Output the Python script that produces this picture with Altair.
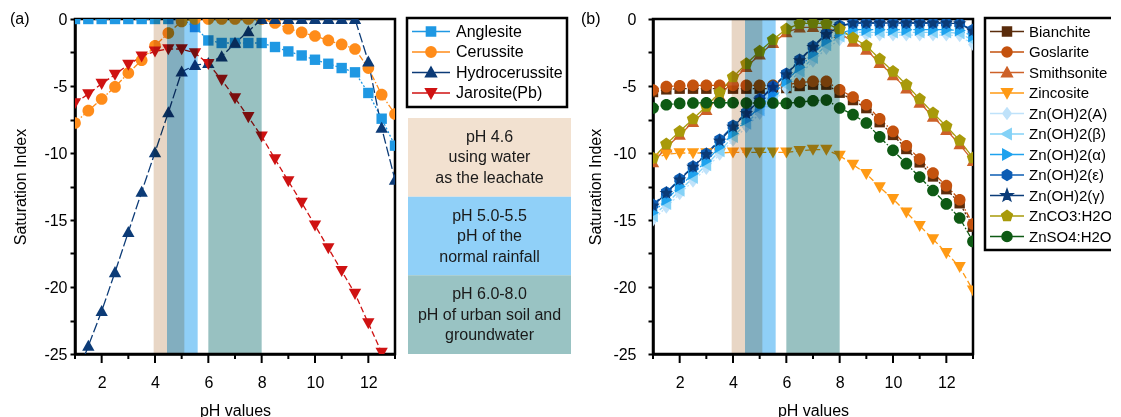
import math
import altair as alt
import pandas as pd

FONT = "Liberation Sans"

# ---------------- data ----------------
PH = [1.0, 1.5, 2.0, 2.5, 3.0, 3.5, 4.0, 4.5, 5.0, 5.5, 6.0, 6.5, 7.0,
      7.5, 8.0, 8.5, 9.0, 9.5, 10.0, 10.5, 11.0, 11.5, 12.0, 12.5, 13.0]

LEFT_SERIES = ["Anglesite", "Cerussite", "Hydrocerussite", "Jarosite(Pb)"]
ANGLESITE = [0, 0, 0, 0, 0, 0, 0, 0, 0, -0.6, -1.6, -1.79, -1.79, -1.79, -1.79,
             -2.09, -2.42, -2.72, -3.04, -3.34, -3.66, -3.98, -5.52, -7.44, -9.45]
CERUSSITE = [-7.76, -6.84, -5.97, -5.07, -4.03, -3.08, -2.0, -1.05, -0.18, 0, 0, 0, 0,
             0, 0, -0.3, -0.72, -1.0, -1.27, -1.6, -1.9, -2.24, -3.66, -5.65, -7.09]
HYDROCERUSSITE = [-27.0, -24.4, -21.8, -18.9, -15.9, -12.9, -9.95, -6.97, -3.93, -3.45,
                  -3.3, -2.8, -1.79, -0.93, 0, 0, 0, 0, 0, 0, 0, 0, -3.18, -8.13, -12.0]
JAROSITE = [-6.27, -5.6, -4.83, -4.15, -3.41, -2.79, -2.41, -2.24, -2.24, -2.54, -3.34,
            -4.53, -5.9, -7.31, -8.76, -10.45, -12.1, -13.7, -15.4, -17.1, -18.8, -20.5,
            -22.7, -24.9, -27.5]
LEFT_VALUES = [ANGLESITE, CERUSSITE, HYDROCERUSSITE, JAROSITE]

RIGHT_SERIES = ["Bianchite", "Goslarite", "Smithsonite", "Zincosite", "Zn(OH)2(A)",
                "Zn(OH)2(β)", "Zn(OH)2(α)", "Zn(OH)2(ε)", "Zn(OH)2(γ)", "ZnCO3:H2O",
                "ZnSO4:H2O"]
BIANCHITE = [-5.45, -5.25, -5.2, -5.2, -5.2, -5.2, -5.2, -5.2, -5.2, -5.2, -5.15, -5.0,
             -4.9, -4.9, -5.5, -6.05, -6.65, -7.7, -8.65, -9.7, -10.7, -11.75, -12.7,
             -13.75, -15.5]
GOSLARITE = [-5.3, -5.05, -4.98, -4.95, -4.95, -4.95, -4.95, -4.95, -4.95, -4.95, -4.9,
             -4.75, -4.65, -4.65, -5.28, -5.82, -6.4, -7.46, -8.39, -9.46, -10.45, -11.5,
             -12.44, -13.49, -15.3]
SMITHSONITE = [-10.7, -9.6, -8.65, -7.7, -6.8, -5.75, -4.6, -3.6, -2.65, -1.8, -1.0,
               -0.65, -0.6, -0.65, -1.05, -1.7, -2.3, -3.3, -4.2, -5.2, -6.25, -7.3,
               -8.3, -9.35, -10.6]
ZINCOSITE = [-10.4, -10.1, -10.0, -10.0, -10.0, -10.0, -9.95, -9.95, -9.95, -9.95, -9.95,
             -9.85, -9.75, -9.75, -10.2, -10.87, -11.55, -12.54, -13.43, -14.43, -15.43,
             -16.42, -17.46, -18.5, -20.25]
ZNOH_A = [-15.0, -14.05, -13.05, -12.1, -11.15, -10.1, -9.05, -8.05, -7.05, -6.15, -5.2,
          -4.15, -3.15, -2.2, -1.55, -1.2, -1.2, -1.2, -1.2, -1.2, -1.2, -1.2, -1.2,
          -1.25, -1.9]
ZNOH_BETA = [-14.7, -13.8, -12.8, -11.85, -10.9, -9.85, -8.8, -7.8, -6.8, -5.9, -4.95,
             -3.9, -2.9, -1.95, -1.3, -1.0, -1.0, -1.0, -1.0, -1.0, -1.0, -1.0, -1.0,
             -1.05, -1.6]
ZNOH_ALPHA = [-14.45, -13.5, -12.5, -11.55, -10.6, -9.55, -8.55, -7.55, -6.55, -5.6,
              -4.65, -3.6, -2.6, -1.65, -1.05, -0.8, -0.8, -0.8, -0.8, -0.8, -0.8, -0.8,
              -0.8, -0.85, -1.3]
ZNOH_EPS = [-13.86, -12.94, -11.94, -11.0, -10.05, -9.0, -7.96, -6.97, -5.97, -5.03,
            -4.08, -3.03, -2.04, -1.09, -0.5, -0.3, -0.3, -0.3, -0.3, -0.3, -0.3, -0.3,
            -0.3, -0.35, -0.8]
ZNOH_GAMMA = [-13.95, -13.0, -12.0, -11.05, -10.1, -9.1, -8.05, -7.05, -6.05, -5.1,
              -4.15, -3.1, -2.1, -1.15, -0.55, -0.3, -0.3, -0.3, -0.3, -0.3, -0.3, -0.3,
              -0.3, -0.35, -0.9]
ZNCO3 = [-10.4, -9.33, -8.39, -7.46, -6.52, -5.48, -4.33, -3.34, -2.41, -1.54, -0.75,
         -0.35, -0.3, -0.35, -0.75, -1.42, -1.99, -2.99, -3.91, -4.9, -5.97, -7.01,
         -8.01, -9.06, -10.37]
ZNSO4 = [-6.64, -6.4, -6.3, -6.27, -6.25, -6.25, -6.25, -6.27, -6.27, -6.27, -6.3, -6.2,
         -6.1, -6.05, -6.64, -7.14, -7.76, -8.8, -9.8, -10.8, -11.8, -12.8, -13.8,
         -14.85, -16.6]
RIGHT_VALUES = [BIANCHITE, GOSLARITE, SMITHSONITE, ZINCOSITE, ZNOH_A, ZNOH_BETA,
                ZNOH_ALPHA, ZNOH_EPS, ZNOH_GAMMA, ZNCO3, ZNSO4]

BAND_NAMES = ["pH 4.6", "pH 5.0-5.5", "pH 6.0-8.0"]
BAND_START = [3.95, 4.45, 6.0]
BAND_END = [5.1, 5.6, 8.0]
INFO_TEXT = ["pH 4.6\nusing water\nas the leachate",
             "pH 5.0-5.5\npH of the\nnormal rainfall",
             "pH 6.0-8.0\npH of urban soil and\ngroundwater"]

X_TICKS = [1, 2, 3, 4, 5, 6, 7, 8, 9, 10, 11, 12, 13]
X_MAJOR = [2, 4, 6, 8, 10, 12]
X_MINOR = [1, 3, 5, 7, 9, 11, 13]
Y_TICKS = [0, -2.5, -5, -7.5, -10, -12.5, -15, -17.5, -20, -22.5, -25]

# ---------------- styles ----------------
LEFT_COLORS = ["#1f98e3", "#ff8c1a", "#0c3b77", "#cf1212"]
LEFT_DASH = [[2, 2], [6, 2, 1.5, 2], [10, 3], [6, 3]]
LEFT_SHAPES = ["square", "circle", "triangle-up", "triangle-down"]

RIGHT_COLORS = ["#5a2c0c", "#c4520e", "#cd6128", "#ff9a14", "#bfe2fa", "#84d2f7",
                "#1ea2ee", "#0d5db4", "#0a3b78", "#a89a0a", "#0e5a14"]
RIGHT_DASH = [[2, 2], [6, 2, 1.5, 2], [1, 0], [6, 3], [2, 2], [6, 3], [6, 2, 1.5, 2],
              [8, 3], [1, 0], [1, 0], [6, 2, 1.5, 2]]
RIGHT_SHAPES = ["square", "circle", "triangle-up", "triangle-down", "diamond",
                "triangle-left", "triangle-right", "hexagon", "star", "pentagon", "circle"]

BAND_COLORS = ["#e8d6c5", "#8fcff7", "#98c1c1"]
INFO_COLORS = ["#f2e1d0", "#90d0f8", "#99c3c3"]


def _regular(n, r):
    return [(r * math.cos(math.radians(-90 + 360 * k / n)),
             r * math.sin(math.radians(-90 + 360 * k / n))) for k in range(n)]


def _star(ro, ri):
    pts = []
    for k in range(10):
        a = math.radians(-90 + 36 * k)
        r = ro if k % 2 == 0 else ri
        pts.append((r * math.cos(a), r * math.sin(a)))
    return pts


GEOM = {
    "square": [(-0.8, -0.8), (0.8, -0.8), (0.8, 0.8), (-0.8, 0.8)],
    "triangle-up": [(0, -0.95), (0.95, 0.75), (-0.95, 0.75)],
    "triangle-down": [(0, 0.95), (0.95, -0.75), (-0.95, -0.75)],
    "diamond": [(0, -1.0), (0.75, 0), (0, 1.0), (-0.75, 0)],
    "triangle-left": [(-0.95, 0), (0.75, -0.95), (0.75, 0.95)],
    "triangle-right": [(0.95, 0), (-0.75, -0.95), (-0.75, 0.95)],
    "hexagon": _regular(6, 0.95),
    "pentagon": _regular(5, 1.0),
    "star": _star(1.1, 0.45),
}


def marker_path(name, s):
    if name == "circle":
        r = 0.9 * s
        return (f"M{-r:.3f},0A{r:.3f},{r:.3f},0,1,1,{r:.3f},0"
                f"A{r:.3f},{r:.3f},0,1,1,{-r:.3f},0Z")
    pts = GEOM[name]
    return "M" + "L".join(f"{x * s:.3f},{y * s:.3f}" for x, y in pts) + "Z"


def legend_path(name, s):
    return "M-1,0L1,0" + marker_path(name, s)


def long_frame(series, values):
    rows = []
    for i, (name, vals) in enumerate(zip(series, values)):
        for p, v in zip(PH, vals):
            rows.append({"series": name, "pH": p, "SI": v, "k": i})
    return pd.DataFrame(rows)


band_df = pd.DataFrame({"band": BAND_NAMES, "pH": BAND_START, "pH_end": BAND_END})
info_df = pd.DataFrame({"band": BAND_NAMES, "text": INFO_TEXT})


def legend_layer(series, colors, shapes, x, y, sym, font_size, pad, offset, mscale):
    leg = alt.Legend(title=None, orient="none", legendX=x, legendY=y,
                     symbolSize=sym * sym, symbolStrokeWidth=1.5, symbolOpacity=1,
                     labelFont=FONT, labelFontSize=font_size, labelColor="black",
                     clipHeight=19, rowPadding=1.5, padding=pad, labelOffset=offset,
                     strokeColor="black", labelLimit=130)
    df = pd.DataFrame({"series": series})
    return alt.Chart(df).mark_point(filled=True, opacity=0).encode(
        fill=alt.Fill("series:N", scale=alt.Scale(domain=series, range=colors), legend=leg),
        stroke=alt.Stroke("series:N", scale=alt.Scale(domain=series, range=colors), legend=leg),
        shape=alt.Shape("series:N", scale=alt.Scale(
            domain=series, range=[legend_path(s, mscale) for s in shapes]), legend=leg),
    )


XSCALE = alt.Scale(domain=[1, 13], nice=False, zero=False)
YSCALE = alt.Scale(domain=[-25, 0], nice=False, zero=False)


def panel(series, values, colors, dashes, shapes, label, label_x, ylab_pad, title_x):
    df = long_frame(series, values)
    xaxis = alt.Axis(values=X_TICKS, title="pH values",
                     labelExpr="datum.value % 2 == 0 ? datum.label : ''",
                     ticks=False, labelPadding=20, titleY=56,
                     titleBaseline="middle", labelOverlap=False)
    yaxis = alt.Axis(values=Y_TICKS, title="Saturation Index",
                     labelExpr="datum.value % 5 == 0 ? toString(datum.value) : ''",
                     ticks=True, tickSize=5, labelPadding=ylab_pad, titleX=title_x,
                     titleY=167.5, titleAngle=-90, titleBaseline="middle",
                     titleAlign="center", labelOverlap=False)
    x = alt.X("pH:Q", scale=XSCALE, axis=xaxis)
    y = alt.Y("SI:Q", scale=YSCALE, axis=yaxis)
    color = alt.Color("series:N", scale=alt.Scale(domain=series, range=colors), legend=None)
    base = alt.Chart(df)
    lines = base.mark_line(clip=True, strokeWidth=1.3).encode(
        x=x, y=y, color=color,
        strokeDash=alt.StrokeDash("series:N", scale=alt.Scale(domain=series, range=dashes),
                                  legend=None),
        order="pH:Q")
    points = base.mark_point(clip=True, filled=True, size=169, opacity=1).encode(
        x=x, y=y, color=color,
        shape=alt.Shape("series:N", scale=alt.Scale(domain=series,
                                                    range=[marker_path(s, 1) for s in shapes]),
                        legend=None),
        order="k:Q")
    bands = [
        alt.Chart(band_df).transform_filter(alt.datum.band == name)
        .mark_rect(blend="multiply", color=col)
        .encode(x=x, x2="pH_end:Q")
        for name, col in zip(BAND_NAMES, BAND_COLORS)
    ]
    major = alt.Chart(pd.DataFrame({"pH": X_MAJOR})).mark_rule(
        color="black", strokeWidth=2).encode(x=x, y=alt.value(335), y2=alt.value(344))
    minor = alt.Chart(pd.DataFrame({"pH": X_MINOR})).mark_rule(
        color="black", strokeWidth=2).encode(x=x, y=alt.value(335), y2=alt.value(340))
    lab = alt.Chart(pd.DataFrame({"t": [label]})).mark_text(
        align="left", baseline="middle", fontSize=16, font=FONT, color="black"
    ).encode(text="t:N", x=alt.value(label_x), y=alt.value(0))
    return [lines, points] + bands + [major, minor, lab]


left = alt.layer(*panel(LEFT_SERIES, LEFT_VALUES, LEFT_COLORS, LEFT_DASH, LEFT_SHAPES,
                        "(a)", -65, 3, -54.5)).properties(width=320, height=335)

right = alt.layer(*panel(RIGHT_SERIES, RIGHT_VALUES, RIGHT_COLORS, RIGHT_DASH, RIGHT_SHAPES,
                         "(b)", -72, 12, -58)).properties(width=320, height=335)

right_legend = legend_layer(RIGHT_SERIES, RIGHT_COLORS, RIGHT_SHAPES, 0, -1,
                            34, 15, 4, 4, 0.33).properties(
    width=1, height=335, view=alt.ViewBackground(stroke="transparent"))

yb = alt.Y("band:N", scale=alt.Scale(domain=BAND_NAMES, range=[99, 335],
                                     paddingInner=0, paddingOuter=0), axis=None)
boxes = alt.Chart(info_df).mark_rect().encode(
    y=yb, color=alt.Color("band:N", scale=alt.Scale(domain=BAND_NAMES, range=INFO_COLORS),
                          legend=None))
texts = alt.Chart(info_df).mark_text(
    lineBreak="\n", lineHeight=20.5, fontSize=16, font=FONT, color="#1a1a1a",
    baseline="middle", align="center", dy=-20.5).encode(y=yb, text="text:N")
middle = alt.layer(
    boxes, texts,
    legend_layer(LEFT_SERIES, LEFT_COLORS, LEFT_SHAPES, -1, -1, 38, 16, 4, 5, 0.3)
).properties(width=163, height=335, view=alt.ViewBackground(stroke="transparent"))

chart = alt.hconcat(left, middle, right, right_legend, spacing=6).resolve_scale(
    color="independent", fill="independent", stroke="independent",
    shape="independent", strokeDash="independent"
).properties(
    padding={"left": 0, "top": 1, "right": -8, "bottom": 0}
).configure_view(stroke="black", strokeWidth=2.5).configure_axis(
    domainColor="black", domainWidth=2.5, tickColor="black", tickWidth=2,
    labelFont=FONT, labelFontSize=16, labelColor="black",
    titleFont=FONT, titleFontSize=16, titleFontWeight="normal", titleColor="black",
    grid=False
).configure_legend(strokeWidth=2.5)

chart.save("out.html", embed_options={"renderer": "svg", "actions": False})
